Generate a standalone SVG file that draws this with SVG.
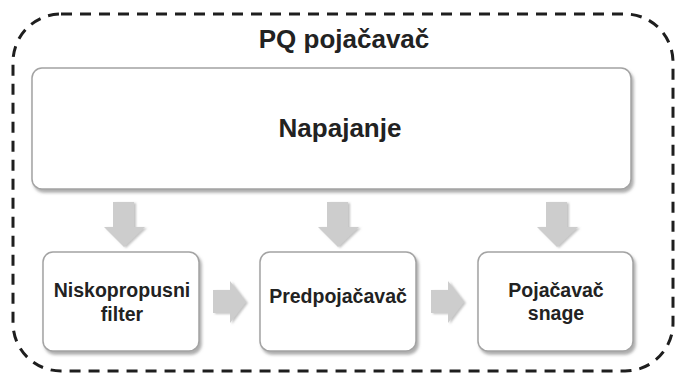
<svg xmlns="http://www.w3.org/2000/svg" width="676" height="376" viewBox="0 0 676 376">
<defs>
<filter id="sh" x="-10%" y="-10%" width="120%" height="130%">
<feDropShadow dx="2" dy="3" stdDeviation="1.5" flood-color="#777" flood-opacity="0.6"/>
</filter>
<filter id="ash" x="-20%" y="-20%" width="150%" height="150%">
<feDropShadow dx="2" dy="1" stdDeviation="1" flood-color="#999" flood-opacity="0.6"/>
</filter>
</defs>
<style>
.box{fill:#fff;stroke:#a3a3a3;stroke-width:1.5;filter:url(#sh)}
.t{font-family:"Liberation Sans",Arial,sans-serif;font-weight:bold;fill:#222;text-anchor:middle}
.arr{fill:#cdcdcd;filter:url(#ash)}
</style>
<rect x="13" y="14" width="660" height="357" rx="48" ry="48" fill="none" stroke="#1e1e1e" stroke-width="3" stroke-dasharray="11 8"/>
<text class="t" x="344" y="48" font-size="26">PQ pojačavač</text>
<g id="napajanje">
<rect class="box" x="32" y="68" width="599" height="121" rx="10"/>
<text class="t" x="340" y="137" font-size="26">Napajanje</text>
</g>
<g id="niskopropusni">
<rect class="box" x="43" y="252" width="156" height="99" rx="10"/>
<text class="t" x="122" y="297" font-size="19.5">Niskopropusni</text>
<text class="t" x="122" y="321" font-size="19.5">filter</text>
</g>
<g id="predpojacavac">
<rect class="box" x="260" y="252" width="156" height="99" rx="10"/>
<text class="t" x="338" y="303" font-size="19.5">Predpojačavač</text>
</g>
<g id="pojacavac">
<rect class="box" x="478" y="252" width="155" height="99" rx="10"/>
<text class="t" x="556" y="297" font-size="19.5">Pojačavač</text>
<text class="t" x="556" y="320" font-size="19.5">snage</text>
</g>
<g id="connectors">
<path class="arr" d="M113,202 H134 V227 H145 L124,247 L104,227 H113 Z"/>
<path class="arr" d="M327,202 H348 V227 H359 L338,247 L318,227 H327 Z"/>
<path class="arr" d="M546,202 H567 V227 H578 L557,247 L537,227 H546 Z"/>
<path class="arr" d="M213,290 H230 V281 L246,302 L230,323 V313 H213 Z"/>
<path class="arr" d="M431,290 H448 V281 L464,302 L448,323 V313 H431 Z"/>
</g>
</svg>
